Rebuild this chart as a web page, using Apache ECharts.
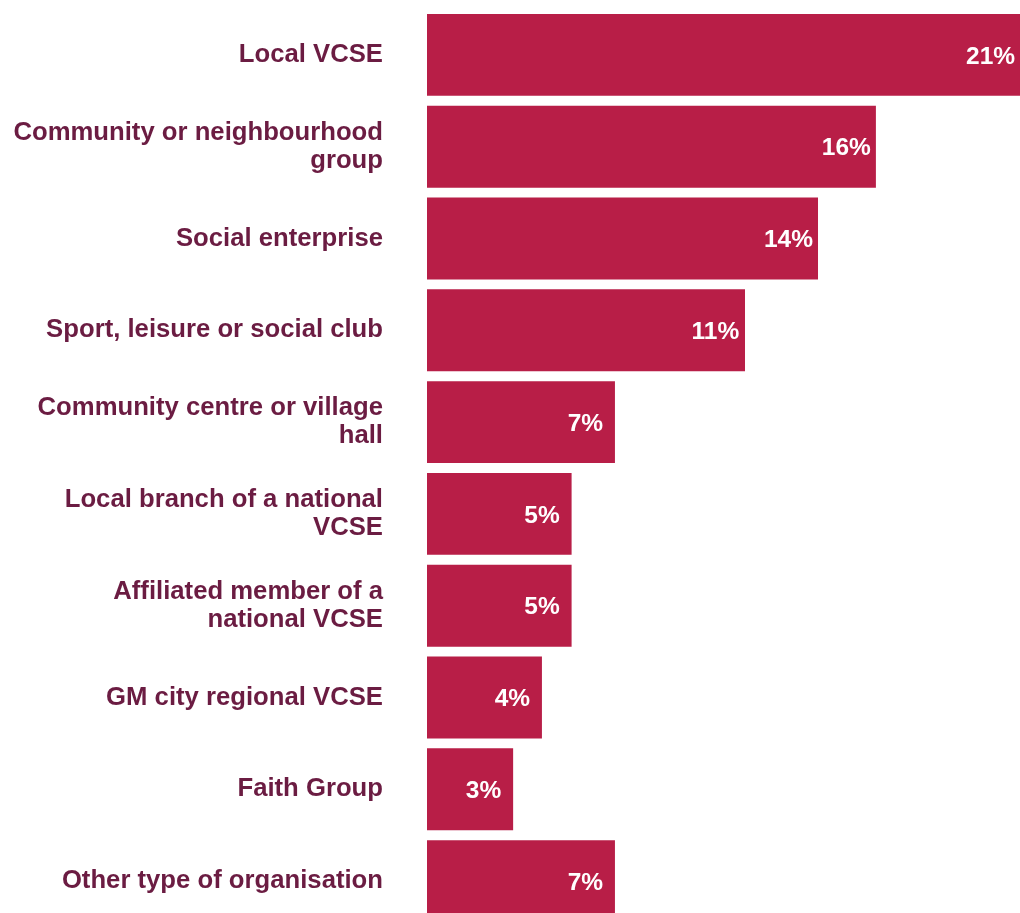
<!DOCTYPE html>
<html>
<head>
<meta charset="utf-8">
<script src="https://cdn.jsdelivr.net/npm/echarts@6/dist/echarts.min.js"></script>
<style>
html,body{margin:0;padding:0;background:#fff;}
#chart{width:1020px;height:913px;}
</style>
</head>
<body>
<div id="chart"></div>
<script>
const categories = [
  "Local VCSE",
  "Community or neighbourhood\ngroup",
  "Social enterprise",
  "Sport, leisure or social club",
  "Community centre or village\nhall",
  "Local branch of a national\nVCSE",
  "Affiliated member of a\nnational VCSE",
  "GM city regional VCSE",
  "Faith Group",
  "Other type of organisation"
];
const values = [20.8, 15.74, 13.71, 11.15, 6.59, 5.07, 5.07, 4.03, 3.02, 6.59];

const FONT = "'Liberation Sans', Arial, Helvetica, sans-serif";
const chart = echarts.init(document.getElementById('chart'), null, {renderer: 'canvas'});
chart.setOption({
  animation: false,
  backgroundColor: '#ffffff',
  grid: {left: 427, top: 9, width: 713, height: 918, outerBoundsMode: 'none', containLabel: false},
  xAxis: {
    type: 'value', min: 0, max: 25, show: false
  },
  yAxis: {
    type: 'category',
    data: categories,
    inverse: true,
    axisLine: {show: false},
    axisTick: {show: false},
    axisLabel: {
      margin: 44,
      color: '#6B1C42',
      fontFamily: FONT,
      fontWeight: 'bold',
      fontSize: 25.7,
      lineHeight: 28,
      align: 'right',
      padding: [5, 0, 0, 0]
    }
  },
  series: [{
    type: 'bar',
    data: values,
    barCategoryGap: '10.8%',
    itemStyle: {color: '#B81E47'},
    label: {
      show: true,
      position: 'insideRight',
      distance: 29.6,
      align: 'center',
      offset: [0, 2],
      color: '#ffffff',
      fontFamily: FONT,
      fontWeight: 'bold',
      fontSize: 24.5,
      formatter: p => Math.round(p.value) + '%'
    }
  }]
});
</script>
</body>
</html>
